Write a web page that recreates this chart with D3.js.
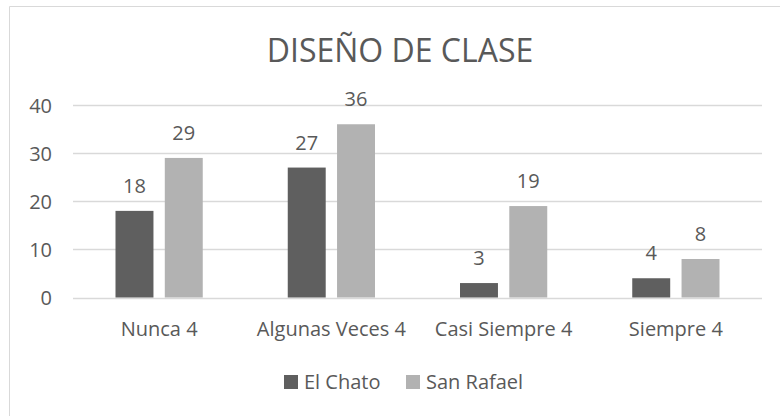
<!DOCTYPE html>
<html><head><meta charset="utf-8">
<script src="https://cdn.jsdelivr.net/npm/d3@7"></script>
<style>body{margin:0;background:#fff;} svg{display:block;font-family:"Open Sans",sans-serif;}</style>
</head><body>
<svg id="c" width="780" height="416"></svg>
<script>
const title = "DISEÑO DE CLASE";
const categories = ["Nunca 4", "Algunas Veces 4", "Casi Siempre 4", "Siempre 4"];
const seriesNames = ["El Chato", "San Rafael"];
const elChato = [18, 27, 3, 4];
const sanRafael = [29, 36, 19, 8];
const yTicks = [0, 10, 20, 30, 40];
const colors = ["#5f5f5f", "#b2b2b2"];
const textColor = "#595959";

const svg = d3.select("#c");
// chart border (top and left visible)
svg.append("line").attr("x1",9.5).attr("x2",780).attr("y1",6.5).attr("y2",6.5).attr("stroke","#d9d9d9").attr("stroke-width",1);
svg.append("line").attr("x1",9.5).attr("x2",9.5).attr("y1",6.5).attr("y2",416).attr("stroke","#d9d9d9").attr("stroke-width",1);

const x0 = d3.scaleBand().domain(categories).range([73, 762]).padding(0);
const x1 = d3.scaleBand().domain(seriesNames).range([42.5, x0.bandwidth()-42.5]).paddingInner(0.23).paddingOuter(0);
const y = d3.scaleLinear().domain([0, 40]).range([297.5, 105]);

// gridlines
svg.append("g").selectAll("line").data(yTicks).join("line")
  .attr("x1", 73).attr("x2", 762)
  .attr("y1", d => Math.round(y(d)) + 0.5).attr("y2", d => Math.round(y(d)) + 0.5)
  .attr("stroke", "#d9d9d9").attr("stroke-width", 1.5);

// y labels
const yAxis = d3.axisLeft(y).tickValues(yTicks).tickSize(0).tickPadding(0);
const ga = svg.append("g").attr("transform", "translate(52,0)").call(yAxis);
ga.select(".domain").remove();
ga.selectAll("text").attr("font-size", 20).attr("fill", textColor).attr("font-family","'Open Sans',sans-serif").attr("dy","0.35em");

// x labels
const xAxis = d3.axisBottom(x0).tickSize(0).tickPadding(0);
const gx = svg.append("g").attr("transform", "translate(0,336)").call(xAxis);
gx.select(".domain").remove();
gx.selectAll("text").attr("font-size", 20).attr("fill", textColor).attr("font-family","'Open Sans',sans-serif").attr("dy", 0);

const series = [elChato, sanRafael];
const data = [];
categories.forEach((c, i) => seriesNames.forEach((s, j) => data.push({c, s, v: series[j][i], j})));

svg.append("g").selectAll("rect").data(data).join("rect")
  .attr("x", d => x0(d.c) + x1(d.s))
  .attr("width", x1.bandwidth())
  .attr("y", d => y(d.v))
  .attr("height", d => y(0) - y(d.v))
  .attr("fill", d => colors[d.j]);

svg.append("g").selectAll("text").data(data).join("text")
  .attr("x", d => x0(d.c) + x1(d.s) + x1.bandwidth()/2)
  .attr("y", d => y(d.v) - 18)
  .attr("text-anchor", "middle")
  .attr("font-size", 20).attr("fill", textColor)
  .text(d => d.v);

// title
svg.append("text").attr("x", 400).attr("y", 62).attr("text-anchor", "middle")
  .attr("font-size", 32).attr("fill", textColor).text(title);

// legend
const legendX = [284, 406];
const lg = svg.append("g").selectAll("g").data(seriesNames).join("g")
  .attr("transform", (d, i) => `translate(${legendX[i]},0)`);
lg.append("rect").attr("x", 0).attr("y", 375).attr("width", 14).attr("height", 14).attr("fill", (d, i) => colors[i]);
lg.append("text").attr("x", 20).attr("y", 389).attr("font-size", 20).attr("fill", textColor).text(d => d);
</script>
</body></html>
